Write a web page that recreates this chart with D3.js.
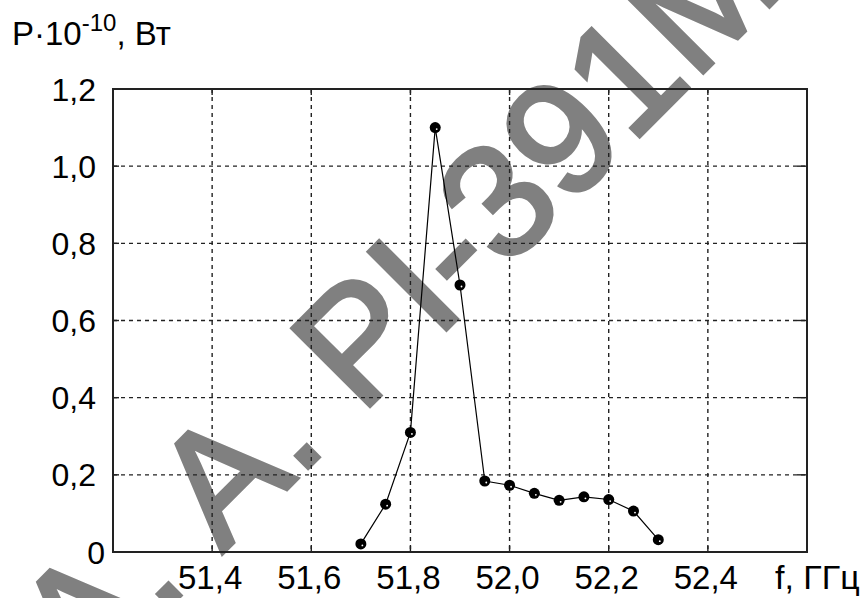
<!DOCTYPE html>
<html>
<head>
<meta charset="utf-8">
<script src="https://cdn.jsdelivr.net/npm/d3@7"></script>
<style>
  body { margin: 0; background: #fff; }
  text { font-family: "Liberation Sans", Arial, sans-serif; fill: #000; }
</style>
</head>
<body>
<div id="chart"></div>
<script>
// measured power vs frequency
const freqs = [51.70, 51.75, 51.80, 51.85, 51.90, 51.95, 52.00, 52.05, 52.10, 52.15, 52.20, 52.25, 52.30];
const power = [0.021, 0.124, 0.31, 1.10, 0.692, 0.184, 0.173, 0.152, 0.134, 0.143, 0.136, 0.106, 0.032];

const xTicks = [51.4, 51.6, 51.8, 52.0, 52.2, 52.4];
const yTicks = [0, 0.2, 0.4, 0.6, 0.8, 1.0, 1.2];
const watermark = 'А. А. PI-391M';

const width = 867;
const height = 598;
const margin = { left: 113, right: 60, top: 89, bottom: 46 };

const svg = d3.select('#chart')
  .append('svg')
  .attr('width', width)
  .attr('height', height);

const x = d3.scaleLinear()
  .domain([51.2, 52.6])
  .range([margin.left, width - margin.right]);

const y = d3.scaleLinear()
  .domain([0, 1.2])
  .range([height - margin.bottom, margin.top]);

const comma = (d) => (d === 0 ? '0' : d3.format('.1f')(d).replace('.', ','));

// watermark goes underneath everything
svg.append('text')
  .attr('transform', 'translate(84, 692) rotate(-45)')
  .style('font-size', '160px')
  .style('fill', '#808080')
  .style('stroke', '#808080')
  .style('stroke-width', 4)
  .text(watermark);

// dashed grid
const grid = svg.append('g').attr('class', 'grid')
  .attr('stroke', '#222')
  .attr('stroke-width', 1.4)
  .attr('stroke-dasharray', '4,4');

grid.selectAll('line.v')
  .data(xTicks)
  .join('line')
  .attr('class', 'v')
  .attr('x1', (d) => x(d)).attr('x2', (d) => x(d))
  .attr('y1', y(1.2)).attr('y2', y(0));

grid.selectAll('line.h')
  .data(yTicks.filter((d) => d > 0 && d < 1.2))
  .join('line')
  .attr('class', 'h')
  .attr('x1', x(51.2)).attr('x2', x(52.6))
  .attr('y1', (d) => y(d)).attr('y2', (d) => y(d));

// inward ticks on all four sides
const ticks = svg.append('g').attr('stroke', '#222').attr('stroke-width', 1.4);
ticks.selectAll('line.tl').data(yTicks).join('line')
  .attr('x1', x(51.2)).attr('x2', x(51.2) + 6)
  .attr('y1', (d) => y(d)).attr('y2', (d) => y(d));
ticks.selectAll('line.tr').data(yTicks).join('line')
  .attr('x1', x(52.6) - 10).attr('x2', x(52.6))
  .attr('y1', (d) => y(d)).attr('y2', (d) => y(d));
ticks.selectAll('line.tb').data(xTicks).join('line')
  .attr('x1', (d) => x(d)).attr('x2', (d) => x(d))
  .attr('y1', y(0)).attr('y2', y(0) - 6);
ticks.selectAll('line.tt').data(xTicks).join('line')
  .attr('x1', (d) => x(d)).attr('x2', (d) => x(d))
  .attr('y1', y(1.2)).attr('y2', y(1.2) + 6);

// frame
svg.append('rect')
  .attr('x', x(51.2))
  .attr('y', y(1.2))
  .attr('width', x(52.6) - x(51.2))
  .attr('height', y(0) - y(1.2))
  .attr('fill', 'none')
  .attr('stroke', '#222')
  .attr('stroke-width', 2);

// tick labels
svg.append('g')
  .selectAll('text')
  .data(xTicks)
  .join('text')
  .attr('x', (d) => x(d) - 2)
  .attr('y', 589)
  .attr('text-anchor', 'middle')
  .style('font-size', '33px')
  .text(comma);

svg.append('g')
  .selectAll('text')
  .data(yTicks)
  .join('text')
  .attr('x', (d) => (d === 0 ? 105 : 96))
  .attr('y', (d) => y(d))
  .attr('dy', '0.36em')
  .attr('text-anchor', 'end')
  .style('font-size', '32px')
  .text(comma);

// axis titles
const title = svg.append('text')
  .attr('x', 12)
  .attr('y', 45)
  .style('font-size', '33px');
title.append('tspan').text('P·10');
title.append('tspan').attr('dy', -14).style('font-size', '24px').text('-10');
title.append('tspan').attr('dy', 14).text(', Вт');

svg.append('text')
  .attr('x', 775)
  .attr('y', 589)
  .style('font-size', '34px')
  .text('f, ГГц');

// data line and markers
const line = d3.line()
  .x((d, i) => x(freqs[i]))
  .y((d) => y(d));

svg.append('path')
  .datum(power)
  .attr('d', line)
  .attr('fill', 'none')
  .attr('stroke', '#000')
  .attr('stroke-width', 1.2);

const dots = svg.append('g');
dots.selectAll('circle.m')
  .data(power)
  .join('circle')
  .attr('class', 'm')
  .attr('cx', (d, i) => x(freqs[i]))
  .attr('cy', (d) => y(d))
  .attr('r', 5.5)
  .attr('fill', '#000');
dots.selectAll('circle.s')
  .data(power)
  .join('circle')
  .attr('class', 's')
  .attr('cx', (d, i) => x(freqs[i]) + 1.5)
  .attr('cy', (d) => y(d) + 1.5)
  .attr('r', 0.9)
  .attr('fill', '#fff');
</script>
</body>
</html>
